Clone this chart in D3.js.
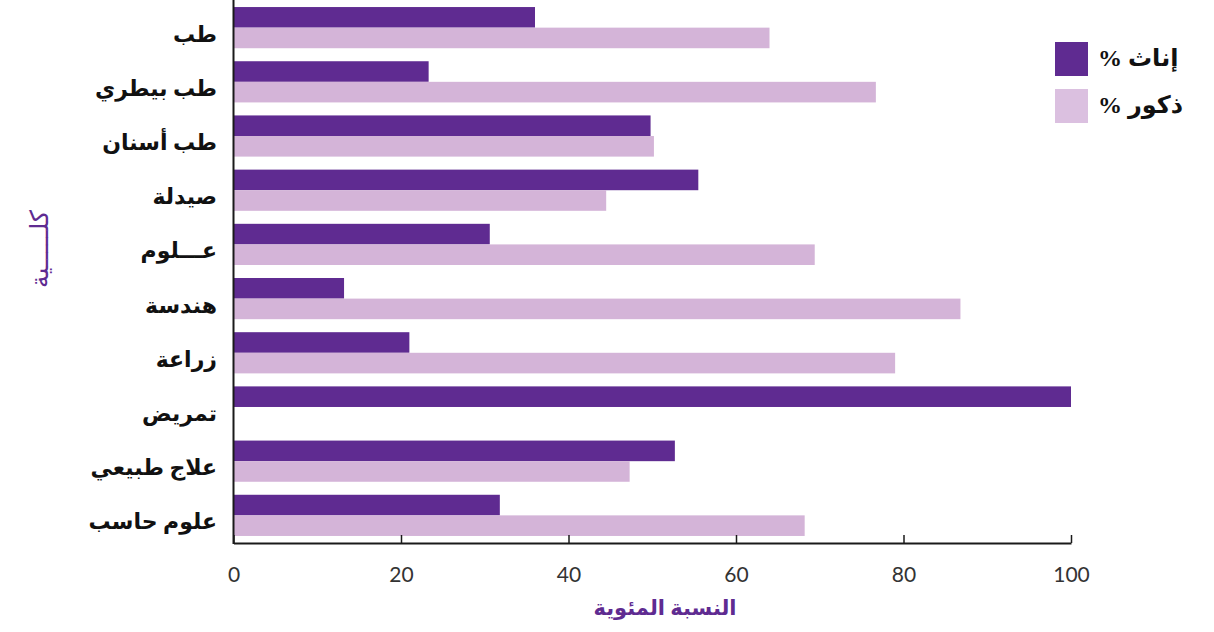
<!DOCTYPE html>
<html lang="ar">
<head>
<meta charset="utf-8">
<script src="https://cdn.jsdelivr.net/npm/d3@7"></script>
<style>
  html, body { margin: 0; padding: 0; background: #ffffff; }
  svg { display: block; }
</style>
</head>
<body>
<svg id="chart" width="1214" height="632"></svg>
<script>
// Faculties, top to bottom
const faculties = ["طب", "طب بيطري", "طب أسنان", "صيدلة", "عـــلوم", "هندسة", "زراعة", "تمريض", "علاج طبيعي", "علوم حاسب"];
// Percentage of female students per faculty
const femalePct = [36, 23.3, 49.8, 55.5, 30.6, 13.2, 21, 100, 52.7, 31.8];
// Percentage of male students per faculty
const malePct = [64, 76.7, 50.2, 44.5, 69.4, 86.8, 79, 0, 47.3, 68.2];
// X axis ticks
const xTicks = [0, 20, 40, 60, 80, 100];
// Legend entries
const seriesLabels = ["% إناث", "% ذكور"];

const colors = { female: "#5f2b91", male: "#d4b4d8" };
const arabicFont = "'Liberation Serif', 'DejaVu Serif', 'DejaVu Sans', serif";

const svg = d3.select("#chart");
const plot = { left: 233.5, right: 1071, top: 0, bottom: 543 };

const x = d3.scaleLinear().domain([0, 100]).range([plot.left, plot.right]);
const y = d3.scaleBand().domain(faculties).range([plot.top, plot.bottom])
  .paddingInner(0.24).paddingOuter(0.13);
const sub = d3.scaleBand().domain(["female", "male"]).range([0, y.bandwidth()]);

const rows = faculties.map((f, i) => ({ f, female: femalePct[i], male: malePct[i] }));

// Bars
const g = svg.append("g");
["female", "male"].forEach(key => {
  g.selectAll("rect." + key)
    .data(rows)
    .join("rect")
    .attr("class", key)
    .attr("x", x(0))
    .attr("y", d => y(d.f) + sub(key))
    .attr("width", d => x(d[key]) - x(0))
    .attr("height", sub.bandwidth())
    .attr("fill", colors[key]);
});

// X axis with ticks pointing into the plot
const xAxis = svg.append("g")
  .attr("transform", `translate(0,${plot.bottom})`)
  .call(d3.axisBottom(x).tickValues(xTicks).tickSizeInner(-8).tickSizeOuter(0).tickPadding(24));
xAxis.select(".domain").attr("stroke", "#1a1a1a").attr("stroke-width", 2);
xAxis.selectAll(".tick line").attr("stroke", "#1a1a1a").attr("stroke-width", 1.5);
xAxis.selectAll(".tick text")
  .attr("font-family", "Lato, 'Open Sans', sans-serif")
  .attr("font-size", 21)
  .attr("fill", "#333");

// Y axis line
svg.append("line")
  .attr("x1", plot.left).attr("x2", plot.left)
  .attr("y1", plot.top).attr("y2", plot.bottom + 1)
  .attr("stroke", "#1a1a1a").attr("stroke-width", 2);

// Faculty labels
svg.append("g").selectAll("text")
  .data(faculties)
  .join("text")
  .attr("x", 217)
  .attr("y", d => y(d) + y.bandwidth() / 2 + 9)
  .attr("text-anchor", "end")
  .attr("dominant-baseline", "middle")
  .attr("font-family", arabicFont)
  .attr("font-weight", "bold")
  .attr("font-size", 22)
  .attr("fill", "#111")
  .text(d => d);

// Axis titles
svg.append("text")
  .attr("x", 665).attr("y", 615)
  .attr("text-anchor", "middle")
  .attr("font-family", arabicFont)
  .attr("font-weight", "bold")
  .attr("font-size", 21)
  .attr("fill", "#5f2b91")
  .text("النسبة المئوية");

svg.append("text")
  .attr("transform", "translate(48,249) rotate(-90)")
  .attr("text-anchor", "middle")
  .attr("font-family", arabicFont)
  .attr("font-size", 25)
  .attr("fill", "#5f2b91")
  .text("كلـــــية");

// Legend
const legend = svg.append("g");
const legendColors = [colors.female, "#dbc0e0"];
seriesLabels.forEach((label, i) => {
  legend.append("rect")
    .attr("x", 1055).attr("y", 42 + i * 47)
    .attr("width", 33).attr("height", 34)
    .attr("fill", legendColors[i]);
  legend.append("text")
    .attr("x", 1098).attr("y", 60 + i * 47)
    .attr("dominant-baseline", "middle")
    .attr("font-family", arabicFont)
    .attr("font-weight", "bold")
    .attr("font-size", 24)
    .attr("fill", "#111")
    .text(label);
});
</script>
</body>
</html>
